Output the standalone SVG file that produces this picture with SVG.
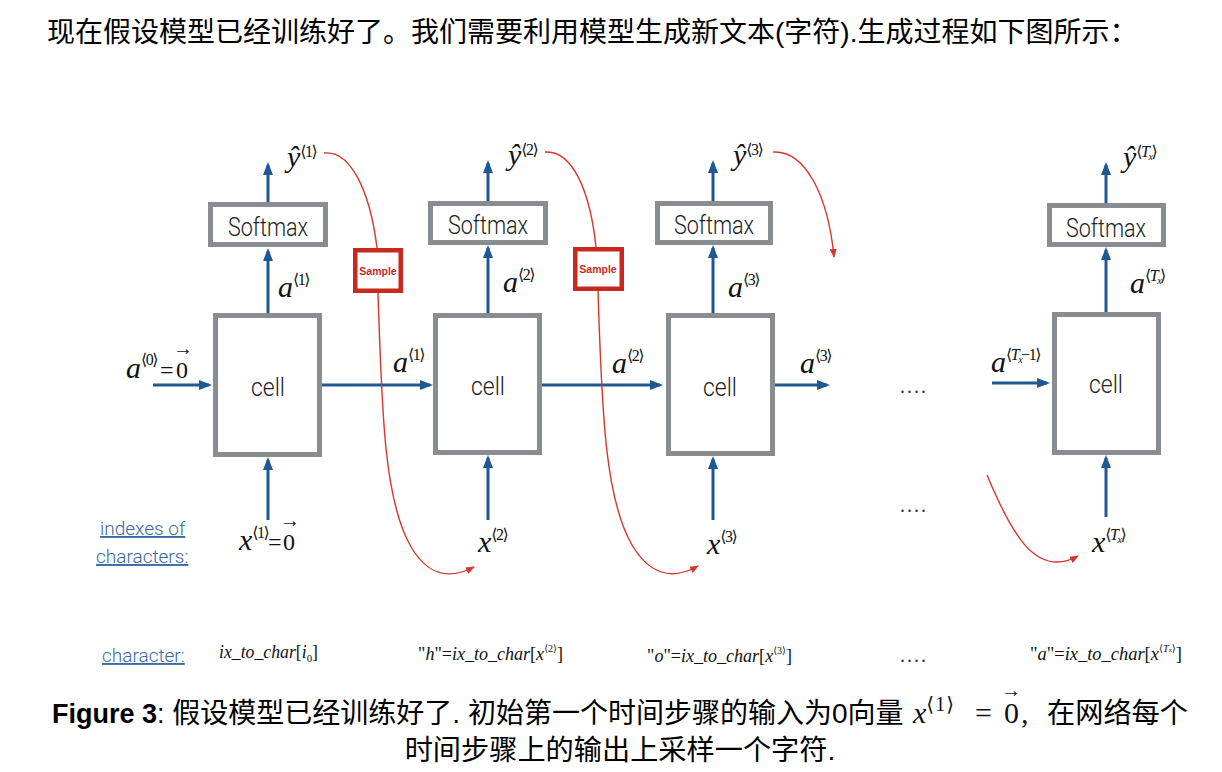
<svg xmlns="http://www.w3.org/2000/svg" width="1222" height="772" viewBox="0 0 1222 772">
<defs>
<marker id="ab" markerUnits="userSpaceOnUse" markerWidth="13" markerHeight="10" refX="10" refY="5" orient="auto"><path d="M0,0 L13,5 L0,10 z" fill="#1f5893"/></marker>
<marker id="ar" markerUnits="userSpaceOnUse" markerWidth="9" markerHeight="7" refX="8" refY="3.5" orient="auto"><path d="M0,0 L9,3.5 L0,7 z" fill="#d8362a"/></marker>
<style>
.box{fill:#fff;stroke:#898c90;stroke-width:5}
.smp{fill:#fff;stroke:#c8281e;stroke-width:4.5}
.blue{stroke:#1f5893;stroke-width:3;fill:none;marker-end:url(#ab)}
.red{stroke:#d8362a;stroke-width:1.4;fill:none;marker-end:url(#ar)}
.lbl{font-family:Roboto,"Liberation Sans",sans-serif;font-weight:300;fill:#222;text-anchor:middle}
.stx{font-family:"Liberation Sans",Arial,sans-serif;font-weight:bold;font-size:10.5px;fill:#c8281e;text-anchor:middle}
.m{font-family:"Liberation Serif","DejaVu Serif",serif;font-style:italic;font-size:30px;fill:#111}
.up{font-style:normal}
.sp{font-size:16px;font-style:normal;letter-spacing:-1.5px}
.vec{font-size:20px;font-style:normal}
.f{font-family:"Liberation Serif","DejaVu Serif",serif;font-style:italic;font-size:18px;fill:#111}
.blab{font-family:Roboto,"Liberation Sans",sans-serif;font-weight:300;font-size:19px;fill:#3b6aa3;text-decoration:underline}
.cjk{font-family:"Liberation Sans","Noto Sans CJK SC",sans-serif;fill:#000}
.dots{font-family:"Liberation Serif",serif;font-size:20px;fill:#333;letter-spacing:2px}
</style>
</defs>
<rect width="1222" height="772" fill="#fff"/>

<text class="cjk" x="47" y="42" font-size="28">现在假设模型已经训练好了。我们需要利用模型生成新文本(字符).生成过程如下图所示：</text>

<g id="connectors">
<line class="blue" x1="268" y1="520" x2="268" y2="460"/>
<line class="blue" x1="268" y1="313" x2="268" y2="251"/>
<line class="blue" x1="268" y1="202" x2="268" y2="165"/>
<line class="blue" x1="488" y1="520" x2="488" y2="458"/>
<line class="blue" x1="488" y1="313" x2="488" y2="248"/>
<line class="blue" x1="488" y1="201" x2="488" y2="163"/>
<line class="blue" x1="713" y1="520" x2="713" y2="459"/>
<line class="blue" x1="713" y1="313" x2="713" y2="248"/>
<line class="blue" x1="713" y1="201" x2="713" y2="163"/>
<line class="blue" x1="1106" y1="517" x2="1106" y2="458"/>
<line class="blue" x1="1106" y1="312" x2="1106" y2="250"/>
<line class="blue" x1="1106" y1="203" x2="1106" y2="165"/>
<line class="blue" x1="153" y1="385" x2="209" y2="385"/>
<line class="blue" x1="322" y1="385" x2="430" y2="385"/>
<line class="blue" x1="542" y1="385" x2="660" y2="385"/>
<line class="blue" x1="775" y1="385" x2="827" y2="385"/>
<line class="blue" x1="992" y1="383" x2="1047" y2="383"/>
<path class="red" style="marker-end:none" d="M324,153 C350,150 370,190 377,248"/>
<path class="red" d="M378,293 C382,420 385,500 410,545 C425,572 445,582 474,567"/>
<path class="red" style="marker-end:none" d="M545,152 C572,150 590,190 596,247"/>
<path class="red" d="M598,291 C602,420 606,500 632,545 C648,572 670,582 698,566"/>
<path class="red" d="M773,152 C805,150 828,195 834,257"/>
<path class="red" d="M987,475 C1010,530 1035,580 1078,556"/>
</g>

<g id="cell1"><rect class="box" x="215.5" y="315.5" width="104" height="139"/><text class="lbl" x="268" y="396" font-size="26" textLength="34" lengthAdjust="spacingAndGlyphs">cell</text></g>
<g id="cell2"><rect class="box" x="435.5" y="315.5" width="104" height="137"/><text class="lbl" x="488" y="395" font-size="26" textLength="34" lengthAdjust="spacingAndGlyphs">cell</text></g>
<g id="cell3"><rect class="box" x="668.5" y="315.5" width="104" height="138"/><text class="lbl" x="720" y="396" font-size="26" textLength="34" lengthAdjust="spacingAndGlyphs">cell</text></g>
<g id="cell4"><rect class="box" x="1054.5" y="314.5" width="104" height="138"/><text class="lbl" x="1106" y="393" font-size="26" textLength="34" lengthAdjust="spacingAndGlyphs">cell</text></g>

<g id="softmax1"><rect class="box" x="210.5" y="204.5" width="115" height="40"/><text class="lbl" x="268" y="236" font-size="25" textLength="80" lengthAdjust="spacingAndGlyphs">Softmax</text></g>
<g id="softmax2"><rect class="box" x="430.5" y="203.5" width="115" height="39"/><text class="lbl" x="488" y="234" font-size="25" textLength="80" lengthAdjust="spacingAndGlyphs">Softmax</text></g>
<g id="softmax3"><rect class="box" x="657.5" y="203.5" width="113" height="39"/><text class="lbl" x="714" y="234" font-size="25" textLength="80" lengthAdjust="spacingAndGlyphs">Softmax</text></g>
<g id="softmax4"><rect class="box" x="1049.5" y="205.5" width="114" height="39"/><text class="lbl" x="1106" y="237" font-size="25" textLength="80" lengthAdjust="spacingAndGlyphs">Softmax</text></g>

<g id="sample1"><rect class="smp" x="355.25" y="250.25" width="45.5" height="40.5"/><text class="stx" x="378" y="275">Sample</text></g>
<g id="sample2"><rect class="smp" x="575.25" y="249.25" width="46.5" height="39.5"/><text class="stx" x="598" y="273">Sample</text></g>

<g id="labels">
<text class="m" x="287" y="167">ŷ<tspan class="sp" dy="-10">⟨1⟩</tspan></text>
<text class="m" x="508" y="165">ŷ<tspan class="sp" dy="-10">⟨2⟩</tspan></text>
<text class="m" x="733" y="165">ŷ<tspan class="sp" dy="-10">⟨3⟩</tspan></text>
<text class="m" x="1123" y="167">ŷ<tspan class="sp" dy="-10">⟨<tspan font-style="italic">T</tspan><tspan font-size="10" font-style="italic" dy="3">x</tspan><tspan dy="-3">⟩</tspan></tspan></text>

<text class="m" x="278" y="297">a<tspan class="sp" dy="-12">⟨1⟩</tspan></text>
<text class="m" x="503" y="292">a<tspan class="sp" dy="-12">⟨2⟩</tspan></text>
<text class="m" x="728" y="297">a<tspan class="sp" dy="-12">⟨3⟩</tspan></text>
<text class="m" x="1130" y="293">a<tspan class="sp" dy="-12">⟨<tspan font-style="italic">T</tspan><tspan font-size="10" font-style="italic" dy="3">x</tspan><tspan dy="-3">⟩</tspan></tspan></text>

<text class="m" x="126" y="378">a<tspan class="sp" dy="-13">⟨0⟩</tspan><tspan class="up" x="160" dy="13" font-size="24">=</tspan><tspan class="up" x="176" font-size="24">0</tspan><tspan class="vec" x="173" dy="-23">→</tspan></text>

<text class="m" x="393" y="372">a<tspan class="sp" dy="-12">⟨1⟩</tspan></text>
<text class="m" x="612" y="373">a<tspan class="sp" dy="-12">⟨2⟩</tspan></text>
<text class="m" x="800" y="373">a<tspan class="sp" dy="-12">⟨3⟩</tspan></text>
<text class="m" x="991" y="372">a<tspan class="sp" dy="-12">⟨<tspan font-style="italic">T</tspan><tspan font-size="10" font-style="italic" dy="3">x</tspan><tspan dy="-3">−1⟩</tspan></tspan></text>

<text class="m" x="239" y="550">x<tspan class="sp" dy="-12">⟨1⟩</tspan><tspan class="up" x="268" dy="12" font-size="24">=</tspan><tspan class="up" x="283" font-size="24">0</tspan><tspan class="vec" x="280" dy="-23">→</tspan></text>
<text class="m" x="478" y="552">x<tspan class="sp" dy="-12">⟨2⟩</tspan></text>
<text class="m" x="707" y="554">x<tspan class="sp" dy="-12">⟨3⟩</tspan></text>
<text class="m" x="1092" y="552">x<tspan class="sp" dy="-12">⟨<tspan font-style="italic">T</tspan><tspan font-size="10" font-style="italic" dy="3">x</tspan><tspan dy="-3">⟩</tspan></tspan></text>

<text class="dots" x="900" y="393">....</text>
<text class="dots" x="900" y="512">....</text>
<text class="dots" x="900" y="662">....</text>

<text class="blab" x="100" y="535">indexes of</text>
<text class="blab" x="96" y="563">characters:</text>
<text class="blab" x="102" y="662">character:</text>

<text class="f" x="219" y="658" textLength="99" lengthAdjust="spacingAndGlyphs">ix_to_char<tspan class="up">[</tspan>i<tspan font-size="11" class="up" dy="4">0</tspan><tspan class="up" dy="-4">]</tspan></text>
<text class="f" x="418" y="660" textLength="145" lengthAdjust="spacingAndGlyphs"><tspan class="up">"</tspan>h<tspan class="up">"=</tspan>ix_to_char<tspan class="up">[</tspan>x<tspan font-size="10" class="up" dy="-8">⟨2⟩</tspan><tspan class="up" dy="8">]</tspan></text>
<text class="f" x="647" y="662" textLength="145" lengthAdjust="spacingAndGlyphs"><tspan class="up">"</tspan>o<tspan class="up">"=</tspan>ix_to_char<tspan class="up">[</tspan>x<tspan font-size="10" class="up" dy="-8">⟨3⟩</tspan><tspan class="up" dy="8">]</tspan></text>
<text class="f" x="1030" y="660" textLength="152" lengthAdjust="spacingAndGlyphs"><tspan class="up">"</tspan>a<tspan class="up">"=</tspan>ix_to_char<tspan class="up">[</tspan>x<tspan font-size="10" class="up" dy="-8">⟨<tspan font-style="italic">T</tspan><tspan font-size="7" font-style="italic">x</tspan>⟩</tspan><tspan class="up" dy="8">]</tspan></text>
</g>

<g id="caption">
<text class="cjk" x="52" y="723" font-size="27"><tspan font-weight="bold">Figure 3</tspan>:<tspan font-size="28"> 假设模型已经训练好了. 初始第一个时间步骤的输入为0向量</tspan></text>
<text class="m" x="913" y="723" font-size="28">x<tspan class="up" font-size="20" dy="-12" letter-spacing="1">⟨1⟩</tspan><tspan class="up" x="975" dy="12">=</tspan><tspan class="up" x="1004">0</tspan><tspan class="vec" x="1001" dy="-26" font-size="22">→</tspan><tspan class="up" x="1021" dy="26">,</tspan></text>
<text class="cjk" x="1047" y="723" font-size="28.2">在网络每个</text>
<text class="cjk" x="620" y="760" font-size="28.2" text-anchor="middle">时间步骤上的输出上采样一个字符.</text>
</g>
</svg>
